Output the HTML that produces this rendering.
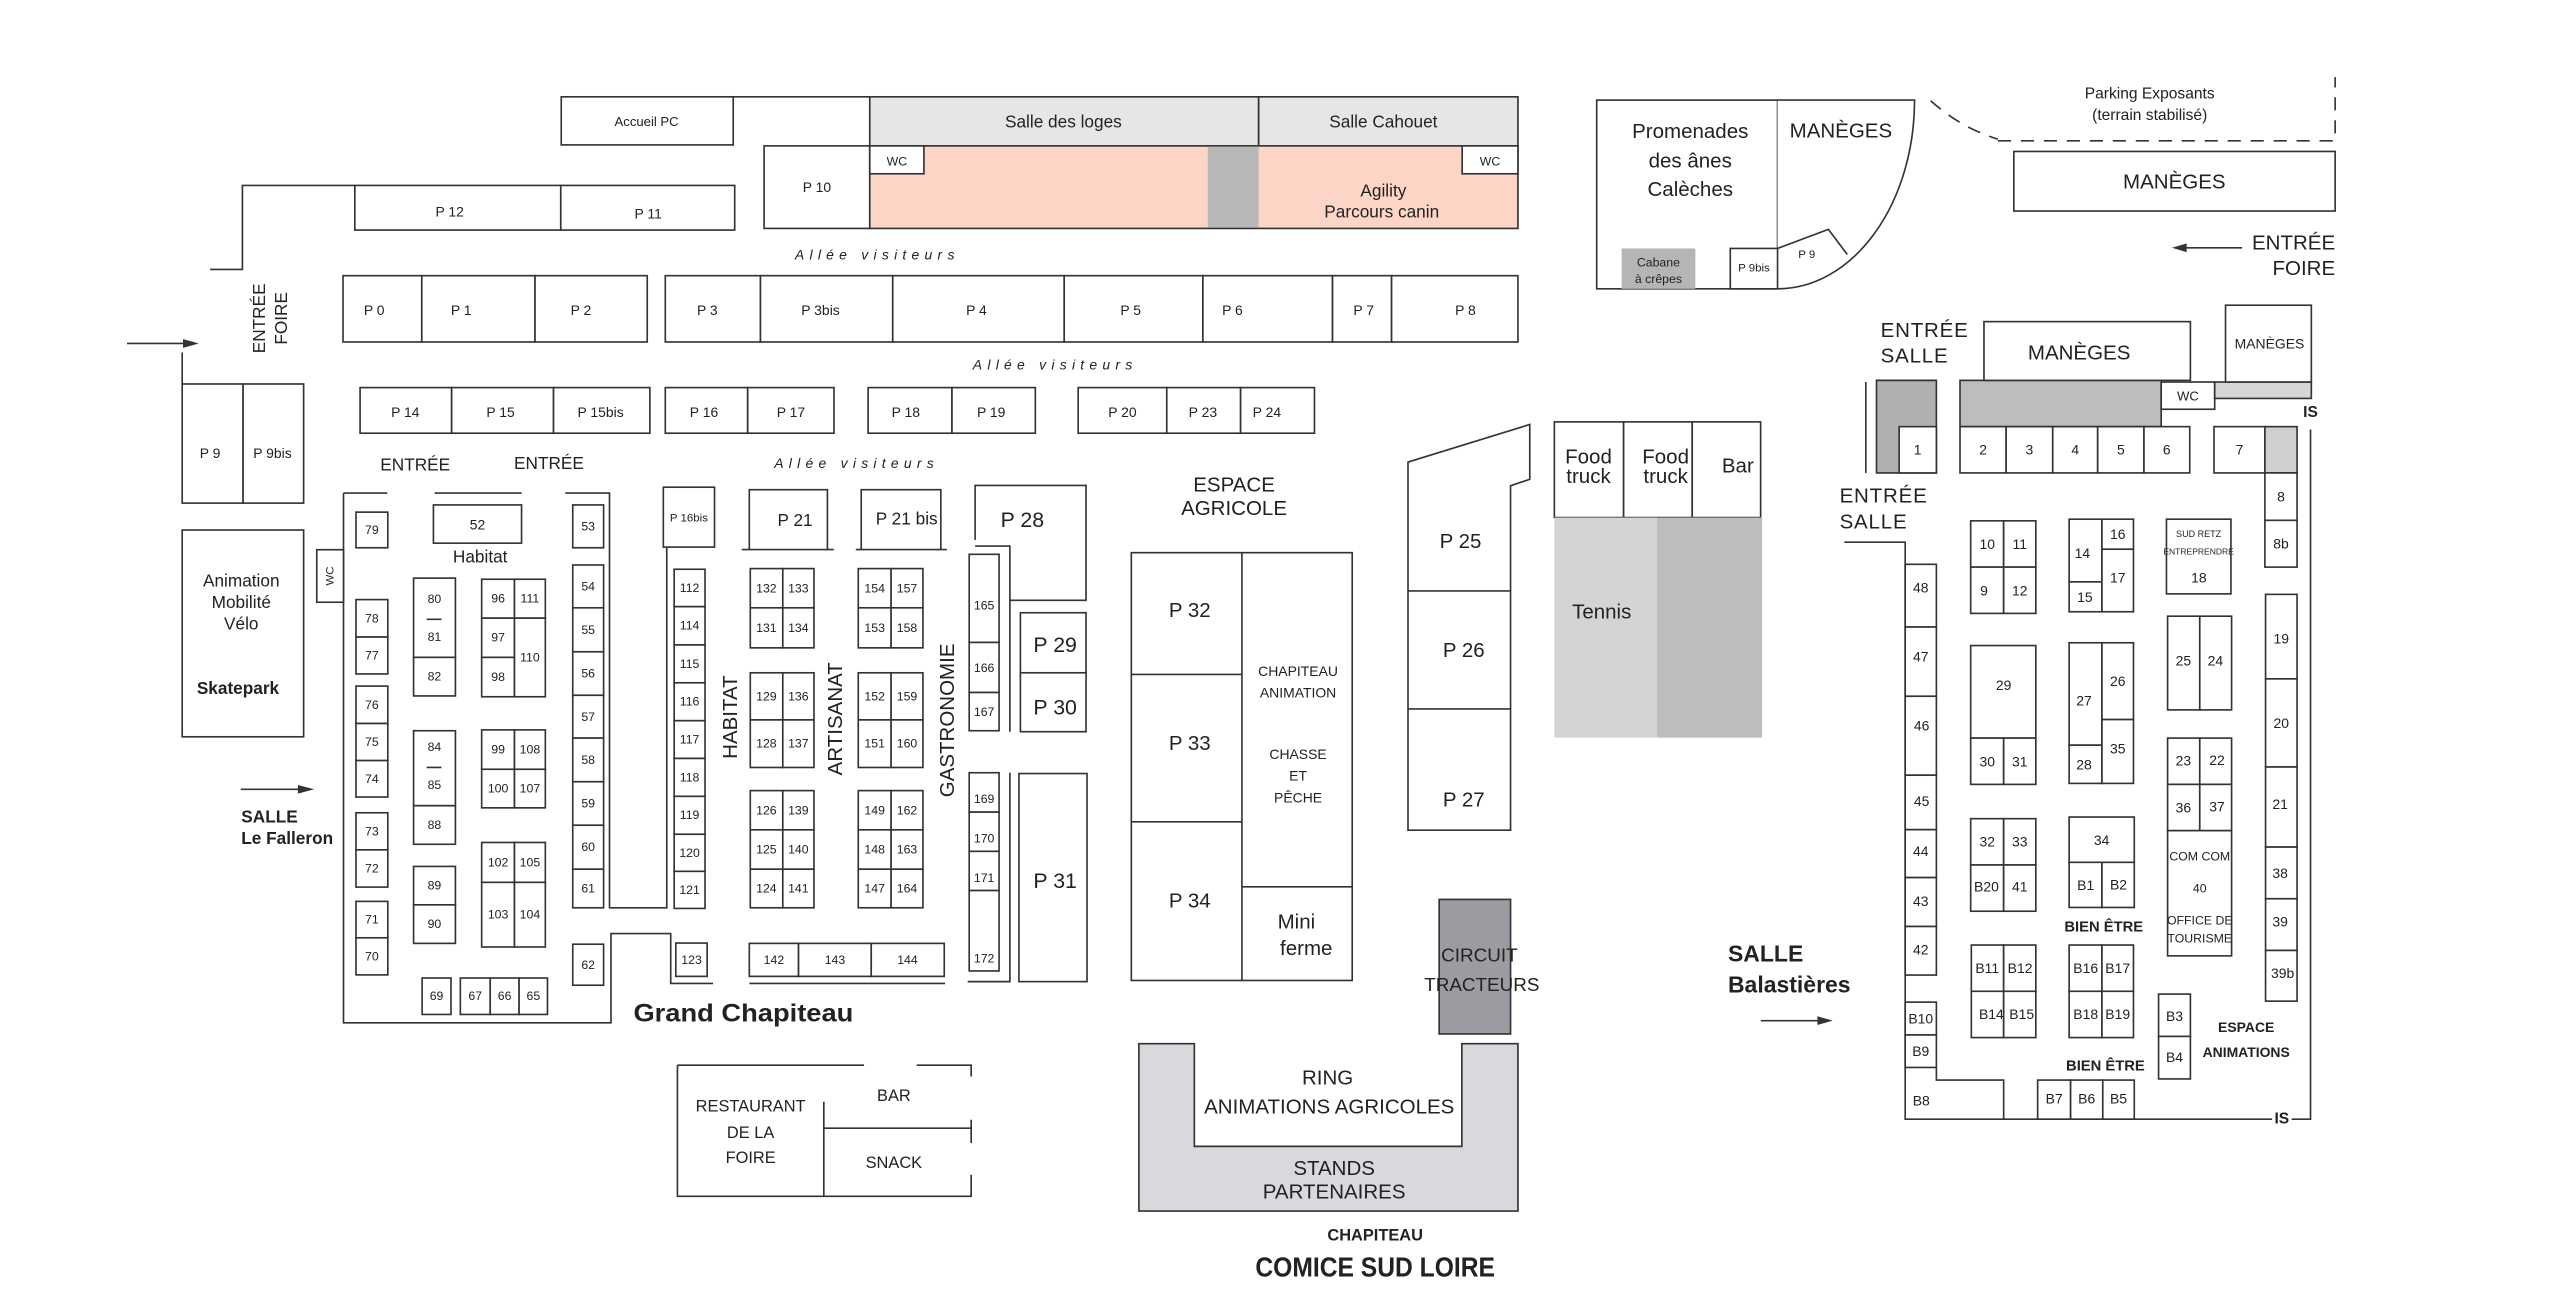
<!DOCTYPE html>
<html><head><meta charset="utf-8"><style>
html,body{margin:0;padding:0;background:#fff;}
svg{display:block;}
text{font-family:"Liberation Sans",sans-serif;fill:#222;text-anchor:middle;dominant-baseline:central;}
.b rect,.b polygon,.b path{stroke:#333;stroke-width:1;}
.n{font-family:"Liberation Sans Narrow","Liberation Sans",sans-serif;font-size:7.5px;}
.s{font-size:8.5px;}
.m{font-size:10.5px;}
.l{font-size:12.5px;}
.al{font-size:8.5px;font-style:italic;letter-spacing:3.2px;}
.bd{font-weight:bold;}
</style></head><body>
<svg width="2560" height="1298" viewBox="0 0 1560 791" xmlns="http://www.w3.org/2000/svg">
<g class="b" fill="#fff">
<!-- top -->
<rect x="342" y="59" width="104.8" height="29.3"/>
<path d="M446.8,59 H530" fill="none"/>
<rect x="530" y="59" width="237" height="30" fill="#e6e6e8"/>
<rect x="767" y="59" width="158" height="30" fill="#e6e6e8"/>
<rect x="465.6" y="88.9" width="64.4" height="50.3"/>
<rect x="530" y="88.9" width="395" height="50.3" fill="#fcd5c7"/>
<rect x="736" y="89.4" width="31" height="49.3" fill="#b8b8b8" stroke="none" style="stroke:none"/>
<rect x="530" y="88.9" width="33" height="17"/>
<rect x="891" y="88.9" width="34" height="17"/>
<path d="M128,164.2 H147.7 V113 H216.2" fill="none"/>
<rect x="216.2" y="113" width="125.5" height="27.2"/>
<rect x="341.7" y="113" width="106" height="27.2"/>
<rect x="209" y="168" width="48" height="40.4"/><rect x="257" y="168" width="69" height="40.4"/><rect x="326" y="168" width="68.4" height="40.4"/>
<rect x="405.4" y="168" width="58" height="40.4"/><rect x="463.4" y="168" width="80.6" height="40.4"/><rect x="544" y="168" width="104.5" height="40.4"/><rect x="648.5" y="168" width="84.5" height="40.4"/><rect x="733" y="168" width="79" height="40.4"/><rect x="812" y="168" width="36" height="40.4"/><rect x="848" y="168" width="77" height="40.4"/>
<rect x="219.4" y="236.2" width="55.8" height="27.8"/><rect x="275.2" y="236.2" width="62.1" height="27.8"/><rect x="337.3" y="236.2" width="58.7" height="27.8"/>
<rect x="405.4" y="236.2" width="50.2" height="27.8"/><rect x="455.6" y="236.2" width="52.6" height="27.8"/>
<rect x="529" y="236.2" width="51.1" height="27.8"/><rect x="580.1" y="236.2" width="50.8" height="27.8"/>
<rect x="657" y="236.2" width="54" height="27.8"/><rect x="711" y="236.2" width="45" height="27.8"/><rect x="756" y="236.2" width="45" height="27.8"/>
<!-- left -->
<path d="M77.4,209.3 H117" fill="none"/><polygon points="119.2,209.3 112,207.3 112,211.3" fill="#333"/>
<path d="M111,214.8 V234" fill="none"/>
<rect x="111" y="234" width="37.1" height="72.6"/><rect x="148.1" y="234" width="36.9" height="72.6"/>
<rect x="111" y="323" width="74" height="126"/>
<path d="M146.7,481 H187" fill="none"/><polygon points="189.5,481 182,479 182,483" fill="#333"/>
<!-- grand chapiteau outline -->
<path d="M209.3,300.5 H236 M264.8,300.5 H317.8 M344.5,300.5 H371.4 V553.2 H406.3 V333.8 M209.3,300.5 V623.3 H372.3 V568.9 H408.7 V599.3 H434.5" fill="none"/>
<rect x="193" y="335" width="16.3" height="32"/>
<rect x="216.9" y="312.1" width="19.4" height="21.7"/>
<rect x="264.1" y="307.7" width="53.7" height="23.3"/>
<rect x="349" y="307.7" width="18.8" height="26.1"/>
<rect x="349" y="344.3" width="18.8" height="26.1"/><rect x="349" y="370.4" width="18.8" height="26.8"/><rect x="349" y="397.2" width="18.8" height="26.5"/><rect x="349" y="423.7" width="18.8" height="26.1"/><rect x="349" y="449.8" width="18.8" height="26.6"/><rect x="349" y="476.4" width="18.8" height="26.5"/><rect x="349" y="502.9" width="18.8" height="26.8"/><rect x="349" y="529.7" width="18.8" height="23.5"/>
<rect x="349" y="575.4" width="18.8" height="25"/>
<rect x="216.9" y="365.4" width="19.4" height="22.8"/><rect x="216.9" y="388.2" width="19.4" height="22.5"/>
<rect x="216.9" y="418.1" width="19.4" height="22.8"/><rect x="216.9" y="440.9" width="19.4" height="22.6"/><rect x="216.9" y="463.5" width="19.4" height="22.2"/>
<rect x="216.9" y="495.3" width="19.4" height="22.6"/><rect x="216.9" y="517.9" width="19.4" height="22.7"/>
<rect x="216.9" y="549.3" width="19.4" height="22.2"/><rect x="216.9" y="571.5" width="19.4" height="22.6"/>
<rect x="252" y="352.3" width="25.5" height="48.3"/><rect x="252" y="400.6" width="25.5" height="23.5"/>
<rect x="252" y="445.3" width="25.5" height="45.7"/><rect x="252" y="491" width="25.5" height="23.5"/>
<rect x="252" y="528" width="25.5" height="23.4"/><rect x="252" y="551.4" width="25.5" height="23.5"/>
<rect x="293.5" y="353" width="20" height="23.7"/><rect x="313.5" y="353" width="18.8" height="23.7"/><rect x="293.5" y="376.7" width="20" height="23.9"/><rect x="293.5" y="400.6" width="20" height="24"/><rect x="313.5" y="376.7" width="18.8" height="47.9"/>
<rect x="293.5" y="444.8" width="20" height="24"/><rect x="313.5" y="444.8" width="18.8" height="24"/><rect x="293.5" y="468.8" width="20" height="23.5"/><rect x="313.5" y="468.8" width="18.8" height="23.5"/>
<rect x="293.5" y="513.4" width="20" height="24.3"/><rect x="313.5" y="513.4" width="18.8" height="24.3"/><rect x="293.5" y="537.7" width="20" height="39.4"/><rect x="313.5" y="537.7" width="18.8" height="39.4"/>
<rect x="257.2" y="596" width="17.6" height="22.2"/>
<rect x="280.5" y="596" width="18.2" height="22.2"/><rect x="298.7" y="596" width="17.6" height="22.2"/><rect x="316.3" y="596" width="17.3" height="22.2"/>
<rect x="404.2" y="296.9" width="31.2" height="36.5"/>
<rect x="410.8" y="346.9" width="18.8" height="22.8"/><rect x="410.8" y="369.7" width="18.8" height="23.3"/><rect x="410.8" y="393" width="18.8" height="23.1"/><rect x="410.8" y="416.1" width="18.8" height="23.1"/><rect x="410.8" y="439.2" width="18.8" height="23"/><rect x="410.8" y="462.2" width="18.8" height="23.1"/><rect x="410.8" y="485.3" width="18.8" height="23.1"/><rect x="410.8" y="508.4" width="18.8" height="22.6"/><rect x="410.8" y="531" width="18.8" height="22.6"/>
<path d="M456.6,334.5 V298.4 H504.2 V334.5 M452,334.9 H508.1 M524.8,334.5 V298.4 H573.3 V334.5 M521.5,334.9 H577" fill="none"/>
<path d="M594.2,329 V295.8 H661.8 V365.8 H615.4 V332.8 H594.2 M615.4,332.8 V445.9" fill="none"/>
<rect x="590.6" y="337.8" width="18.2" height="53.7"/><rect x="590.6" y="391.5" width="18.2" height="30.5"/><rect x="590.6" y="422" width="18.2" height="23.3"/>
<rect x="621.8" y="373.4" width="40" height="36.6"/><rect x="621.8" y="410" width="40" height="35.9"/>
<!-- artisanat blocks -->
<rect x="457.2" y="346.5" width="19.8" height="23.9"/><rect x="477" y="346.5" width="19" height="23.9"/><rect x="457.2" y="370.4" width="19.8" height="24.4"/><rect x="477" y="370.4" width="19" height="24.4"/>
<rect x="457.2" y="410" width="19.8" height="28.7"/><rect x="477" y="410" width="19" height="28.7"/><rect x="457.2" y="438.7" width="19.8" height="29"/><rect x="477" y="438.7" width="19" height="29"/>
<rect x="457.2" y="481.8" width="19.8" height="23.9"/><rect x="477" y="481.8" width="19" height="23.9"/><rect x="457.2" y="505.7" width="19.8" height="24"/><rect x="477" y="505.7" width="19" height="24"/><rect x="457.2" y="529.7" width="19.8" height="23.5"/><rect x="477" y="529.7" width="19" height="23.5"/>
<rect x="523" y="346.5" width="20" height="23.9"/><rect x="543" y="346.5" width="19.4" height="23.9"/><rect x="523" y="370.4" width="20" height="24.4"/><rect x="543" y="370.4" width="19.4" height="24.4"/>
<rect x="523" y="410" width="20" height="28.7"/><rect x="543" y="410" width="19.4" height="28.7"/><rect x="523" y="438.7" width="20" height="29"/><rect x="543" y="438.7" width="19.4" height="29"/>
<rect x="523" y="481.8" width="20" height="23.9"/><rect x="543" y="481.8" width="19.4" height="23.9"/><rect x="523" y="505.7" width="20" height="24"/><rect x="543" y="505.7" width="19.4" height="24"/><rect x="523" y="529.7" width="20" height="23.5"/><rect x="543" y="529.7" width="19.4" height="23.5"/>
<rect x="411.8" y="574.7" width="19.1" height="20.3"/>
<rect x="456.6" y="574.9" width="30" height="20.1"/><rect x="486.6" y="574.9" width="44.3" height="20.1"/><rect x="530.9" y="574.9" width="44.5" height="20.1"/>
<path d="M456.6,599.3 H575.9 M615.4,470.9 V598.2 H589.7" fill="none"/>
<rect x="590.6" y="470.9" width="18.2" height="24"/><rect x="590.6" y="494.9" width="18.2" height="23.9"/><rect x="590.6" y="518.8" width="18.2" height="23.9"/><rect x="590.6" y="542.7" width="18.2" height="49"/>
<rect x="620.9" y="471.4" width="41.5" height="126.8"/>
<!-- restaurant -->
<path d="M412.8,649.1 H526.5 M558.6,649.1 H591.8 V656 M591.8,682.4 V696.6 M591.8,715.9 V729 H412.8 V649.1 M502,671.4 V729 M502,687.5 H591.8" fill="none"/>
<!-- agricole -->
<rect x="689.4" y="336.8" width="134.6" height="260.7"/>
<path d="M756.8,336.8 V597.5 M689.4,411 H756.8 M689.4,500.8 H756.8 M756.8,540.4 H824" fill="none"/>
<polygon points="858,281.6 932.2,258.7 932.2,292.1 920.5,296 920.5,505.9 858,505.9"/>
<path d="M858,360.1 H920.5 M858,432 H920.5" fill="none"/>
<rect x="947.2" y="257.1" width="42.2" height="58.3"/><rect x="989.4" y="257.1" width="41.8" height="58.3"/><rect x="1031.2" y="257.1" width="41.7" height="58.3"/>
<rect x="947.2" y="315.4" width="62.6" height="134.1" fill="#d4d4d4" style="stroke:none"/>
<rect x="1009.8" y="315.4" width="64" height="134.1" fill="#bdbdbd" style="stroke:none"/>
<rect x="877" y="548.1" width="43.5" height="82" fill="#9b9ca1"/>
<path d="M694,636 H727.8 V698.6 H890.8 V636 H925 V738 H694 Z" fill="#d9d9dd"/>
<!-- top right -->
<rect x="973" y="61" width="110.2" height="115"/>
<path d="M1083.2,61 H1166.7 A83.5 115 0 0 1 1083.2 176" />
<rect x="988.2" y="151.4" width="44.9" height="24.6" fill="#b5b5b5" style="stroke:none"/>
<rect x="1054.4" y="151.4" width="28.8" height="24.6"/>
<path d="M1083.2,151.4 L1114.2,139.8 L1125.7,155.1" fill="none"/>
<path d="M1176.5,61.4 Q1195,78 1217.5,84.8 M1217.5,85.8 H1423 V47" fill="none" stroke-dasharray="8,6"/>
<rect x="1227.2" y="92.3" width="195.8" height="36.3"/>
<path d="M1366.3,151 H1330" fill="none"/><polygon points="1325.3,151 1332,149 1332,153" fill="#333"/>
<!-- salle balastieres -->
<path d="M1137,232.8 V288.2" fill="none"/>
<path d="M1143.5,231.8 H1180 V288.2 H1143.5 Z" fill="#b0b0b0"/>
<rect x="1157.3" y="260" width="22.7" height="28.2"/>
<rect x="1194.4" y="231.8" width="122.6" height="28.2" fill="#bdbdbd"/>
<rect x="1209" y="196" width="125.8" height="35.8"/>
<rect x="1317" y="232.8" width="32.6" height="16.6"/>
<rect x="1349.6" y="232.8" width="58.9" height="10" fill="#d6d6d6"/>
<rect x="1356.2" y="186" width="52.3" height="46.8"/>
<rect x="1194.4" y="260" width="28.1" height="28.2"/><rect x="1222.5" y="260" width="28.4" height="28.2"/><rect x="1250.9" y="260" width="27.4" height="28.2"/><rect x="1278.3" y="260" width="28.2" height="28.2"/><rect x="1306.5" y="260" width="27.9" height="28.2"/>
<rect x="1349.2" y="260" width="31" height="28.2"/><rect x="1380.2" y="260" width="19.6" height="28.2" fill="#d0d0d0"/>
<rect x="1380.2" y="288.2" width="19.6" height="28.9"/><rect x="1380.2" y="317.1" width="19.6" height="28.5"/>
<path d="M1123.9,330.4 H1161 V682 H1384.6 M1396.5,682 H1408 V261.7" fill="none"/>
<rect x="1161" y="343.9" width="19" height="38.2"/><rect x="1161" y="382.1" width="19" height="42.2"/><rect x="1161" y="424.3" width="19" height="48.1"/><rect x="1161" y="472.4" width="19" height="33.2"/><rect x="1161" y="505.6" width="19" height="29.2"/><rect x="1161" y="534.8" width="19" height="29.8"/><rect x="1161" y="564.6" width="19" height="29.6"/>
<rect x="1161" y="610.7" width="19" height="20"/><rect x="1161" y="630.7" width="19" height="19.8"/>
<path d="M1180,650.5 V658.2 H1221 V682" fill="none"/>
<rect x="1200.9" y="317.4" width="20.1" height="28.2"/><rect x="1221" y="317.4" width="19.6" height="28.2"/><rect x="1200.9" y="345.6" width="20.1" height="28.2"/><rect x="1221" y="345.6" width="19.6" height="28.2"/>
<rect x="1260.9" y="316.4" width="20" height="38.2"/><rect x="1260.9" y="354.6" width="20" height="18.2"/><rect x="1280.9" y="316.4" width="19.2" height="18.3"/><rect x="1280.9" y="334.7" width="19.2" height="38.1"/>
<rect x="1320.2" y="316.4" width="39.3" height="45.5"/>
<rect x="1200.9" y="393.4" width="39.7" height="56.4"/><rect x="1200.9" y="449.8" width="20.1" height="28.2"/><rect x="1221" y="449.8" width="19.6" height="28.2"/>
<rect x="1260.9" y="391.7" width="20" height="62.4"/><rect x="1260.9" y="454.1" width="20" height="23.3"/><rect x="1280.9" y="391.7" width="19.2" height="46.8"/><rect x="1280.9" y="438.5" width="19.2" height="38.9"/>
<rect x="1320.9" y="375.5" width="19.6" height="57.1"/><rect x="1340.5" y="375.5" width="19.4" height="57.1"/>
<rect x="1320.9" y="449.8" width="19.6" height="28.2"/><rect x="1340.5" y="449.8" width="19.4" height="28.2"/><rect x="1320.9" y="478" width="19.6" height="28.2"/><rect x="1340.5" y="478" width="19.4" height="28.2"/>
<rect x="1320.9" y="506.2" width="39" height="76.3"/>
<rect x="1200.9" y="498.9" width="20.1" height="28.2"/><rect x="1221" y="498.9" width="19.6" height="28.2"/><rect x="1200.9" y="527.1" width="20.1" height="28.2"/><rect x="1221" y="527.1" width="19.6" height="28.2"/>
<rect x="1260.9" y="497.9" width="39.7" height="27.6"/><rect x="1260.9" y="525.5" width="20" height="27.5"/><rect x="1280.9" y="525.5" width="19.7" height="27.5"/>
<rect x="1201.3" y="575.9" width="19.7" height="28.2"/><rect x="1221" y="575.9" width="19.6" height="28.2"/><rect x="1201.3" y="604.1" width="19.7" height="28.2"/><rect x="1221" y="604.1" width="19.6" height="28.2"/>
<rect x="1260.9" y="575.9" width="20" height="28.2"/><rect x="1280.9" y="575.9" width="19.2" height="28.2"/><rect x="1260.9" y="604.1" width="20" height="28.2"/><rect x="1280.9" y="604.1" width="19.2" height="28.2"/>
<rect x="1315.4" y="605.8" width="19.4" height="25.8"/><rect x="1315.4" y="631.6" width="19.4" height="25.9"/>
<rect x="1380.6" y="362.2" width="19.2" height="51.5"/><rect x="1380.6" y="413.7" width="19.2" height="53.7"/><rect x="1380.6" y="467.4" width="19.2" height="48.8"/><rect x="1380.6" y="516.2" width="19.2" height="31.5"/><rect x="1380.6" y="547.7" width="19.2" height="31.5"/><rect x="1380.6" y="579.2" width="19.2" height="30.9"/>
<rect x="1241.7" y="658.2" width="20.1" height="23.8"/><rect x="1261.8" y="658.2" width="19.6" height="23.8"/><rect x="1281.4" y="658.2" width="19.2" height="23.8"/>
<path d="M1073,622 H1111" fill="none"/><polygon points="1115,622 1108,620 1108,624" fill="#333"/>
<path d="M260,377.4 H269 M260,467.7 H269" fill="none"/>
</g>
<g>
<text x="394" y="74" style="font-size:8px">Accueil PC</text>
<text x="648" y="74" class="m">Salle des loges</text>
<text x="843" y="74" class="m">Salle Cahouet</text>
<text x="497.8" y="114" class="s">P 10</text>
<text x="546.5" y="98.5" style="font-size:7.5px">WC</text>
<text x="908" y="98.5" style="font-size:7.5px">WC</text>
<text x="843" y="116" class="m">Agility</text>
<text x="842" y="129" class="m">Parcours canin</text>
<text x="274" y="129" class="s">P 12</text>
<text x="395" y="130" class="s">P 11</text>
<text x="534.6" y="155" class="al">Allée visiteurs</text>
<text x="643" y="222" class="al">Allée visiteurs</text>
<text x="522" y="282" class="al">Allée visiteurs</text>
<text x="228" y="189" class="s">P 0</text><text x="281" y="189" class="s">P 1</text><text x="354" y="189" class="s">P 2</text>
<text x="431" y="189" class="s">P 3</text><text x="500" y="189" class="s">P 3bis</text><text x="595" y="189" class="s">P 4</text><text x="689" y="189" class="s">P 5</text><text x="751" y="189" class="s">P 6</text><text x="831" y="189" class="s">P 7</text><text x="893" y="189" class="s">P 8</text>
<text x="247" y="251" class="s">P 14</text><text x="305" y="251" class="s">P 15</text><text x="366" y="251" class="s">P 15bis</text>
<text x="429" y="251" class="s">P 16</text><text x="482" y="251" class="s">P 17</text><text x="552" y="251" class="s">P 18</text><text x="604" y="251" class="s">P 19</text>
<text x="684" y="251" class="s">P 20</text><text x="733" y="251" class="s">P 23</text><text x="772" y="251" class="s">P 24</text>
<text x="253" y="283" class="m">ENTRÉE</text><text x="334.5" y="282" class="m">ENTRÉE</text>
<text transform="translate(157.9,194) rotate(-90)" class="m">ENTRÉE</text>
<text transform="translate(171.1,194) rotate(-90)" class="m">FOIRE</text>
<text x="128" y="276" class="s">P 9</text><text x="166" y="276" class="s">P 9bis</text>
<text x="147" y="353.7" class="m">Animation</text><text x="147" y="366.8" class="m">Mobilité</text><text x="147" y="380" class="m">Vélo</text>
<text x="145" y="419.4" class="m bd">Skatepark</text>
<text x="147" y="497.5" class="m bd" style="text-anchor:start">SALLE</text>
<text x="147" y="510.6" class="m bd" style="text-anchor:start">Le Falleron</text>
<text transform="translate(201.5,351) rotate(-90)" style="font-size:7px">WC</text>
<text x="226.6" y="323" class="n">79</text>
<text x="291" y="319.5" class="n" style="font-size:8.5px">52</text>
<text x="292.6" y="339" class="m">Habitat</text>
<text x="358.4" y="321" class="n">53</text>
<text x="358.4" y="357.3" class="n">54</text><text x="358.4" y="383.8" class="n">55</text><text x="358.4" y="410.4" class="n">56</text><text x="358.4" y="436.8" class="n">57</text><text x="358.4" y="463.1" class="n">58</text><text x="358.4" y="489.6" class="n">59</text><text x="358.4" y="516.3" class="n">60</text><text x="358.4" y="541.4" class="n">61</text>
<text x="358.4" y="588" class="n">62</text>
<text x="226.6" y="376.8" class="n">78</text><text x="226.6" y="399.4" class="n">77</text>
<text x="226.6" y="429.5" class="n">76</text><text x="226.6" y="452.2" class="n">75</text><text x="226.6" y="474.6" class="n">74</text>
<text x="226.6" y="506.6" class="n">73</text><text x="226.6" y="529.2" class="n">72</text>
<text x="226.6" y="560.4" class="n">71</text><text x="226.6" y="582.8" class="n">70</text>
<text x="264.7" y="365" class="n">80</text><text x="264.7" y="388.2" class="n">81</text><text x="264.7" y="412.3" class="n">82</text>
<text x="264.7" y="455.3" class="n">84</text><text x="264.7" y="478.5" class="n">85</text><text x="264.7" y="502.8" class="n">88</text>
<text x="264.7" y="539.7" class="n">89</text><text x="264.7" y="563.1" class="n">90</text>
<text x="303.5" y="364.8" class="n">96</text><text x="322.9" y="364.8" class="n">111</text><text x="303.5" y="388.6" class="n">97</text><text x="303.5" y="412.6" class="n">98</text><text x="322.9" y="400.6" class="n">110</text>
<text x="303.5" y="456.8" class="n">99</text><text x="322.9" y="456.8" class="n">108</text><text x="303.5" y="480.5" class="n">100</text><text x="322.9" y="480.5" class="n">107</text>
<text x="303.5" y="525.5" class="n">102</text><text x="322.9" y="525.5" class="n">105</text><text x="303.5" y="557.4" class="n">103</text><text x="322.9" y="557.4" class="n">104</text>
<text x="266" y="607" class="n">69</text><text x="289.6" y="607" class="n">67</text><text x="307.5" y="607" class="n">66</text><text x="325" y="607" class="n">65</text>
<text x="419.8" y="316" class="n" style="font-size:7px">P 16bis</text>
<text x="420.2" y="358.3" class="n">112</text><text x="420.2" y="381.3" class="n">114</text><text x="420.2" y="404.5" class="n">115</text><text x="420.2" y="427.6" class="n">116</text><text x="420.2" y="450.7" class="n">117</text><text x="420.2" y="473.8" class="n">118</text><text x="420.2" y="496.8" class="n">119</text><text x="420.2" y="519.7" class="n">120</text><text x="420.2" y="542.3" class="n">121</text>
<text transform="translate(445.1,437) rotate(-90)" class="l">HABITAT</text>
<text transform="translate(509,438) rotate(-90)" class="l">ARTISANAT</text>
<text transform="translate(577.5,439) rotate(-90)" class="l">GASTRONOMIE</text>
<text x="484.5" y="317" class="m">P 21</text><text x="552.5" y="316" class="m">P 21 bis</text>
<text x="623" y="317" style="font-size:13px">P 28</text>
<text x="643" y="393" style="font-size:13px">P 29</text><text x="643" y="431" style="font-size:13px">P 30</text>
<text x="643" y="537" style="font-size:13px">P 31</text>
<text x="599.7" y="369" class="n">165</text><text x="599.7" y="407" class="n">166</text><text x="599.7" y="434" class="n">167</text>
<text x="599.7" y="487" class="n">169</text><text x="599.7" y="511" class="n">170</text><text x="599.7" y="535" class="n">171</text><text x="599.7" y="584" class="n">172</text>
<text x="467" y="358.5" class="n">132</text><text x="486.5" y="358.5" class="n">133</text><text x="467" y="382.6" class="n">131</text><text x="486.5" y="382.6" class="n">134</text>
<text x="467" y="424.4" class="n">129</text><text x="486.5" y="424.4" class="n">136</text><text x="467" y="453.2" class="n">128</text><text x="486.5" y="453.2" class="n">137</text>
<text x="467" y="493.8" class="n">126</text><text x="486.5" y="493.8" class="n">139</text><text x="467" y="517.7" class="n">125</text><text x="486.5" y="517.7" class="n">140</text><text x="467" y="541.5" class="n">124</text><text x="486.5" y="541.5" class="n">141</text>
<text x="533" y="358.5" class="n">154</text><text x="552.7" y="358.5" class="n">157</text><text x="533" y="382.6" class="n">153</text><text x="552.7" y="382.6" class="n">158</text>
<text x="533" y="424.4" class="n">152</text><text x="552.7" y="424.4" class="n">159</text><text x="533" y="453.2" class="n">151</text><text x="552.7" y="453.2" class="n">160</text>
<text x="533" y="493.8" class="n">149</text><text x="552.7" y="493.8" class="n">162</text><text x="533" y="517.7" class="n">148</text><text x="552.7" y="517.7" class="n">163</text><text x="533" y="541.5" class="n">147</text><text x="552.7" y="541.5" class="n">164</text>
<text x="421.4" y="585" class="n">123</text>
<text x="471.6" y="585" class="n">142</text><text x="508.8" y="585" class="n">143</text><text x="553" y="585" class="n">144</text>
<text x="453" y="618" style="font-size:15px;font-weight:bold;font-family:'Liberation Sans Narrow','Liberation Sans',sans-serif" textLength="134" lengthAdjust="spacingAndGlyphs">Grand Chapiteau</text>
<text x="457.4" y="674.4" class="m" style="font-size:10px">RESTAURANT</text><text x="457.4" y="690.6" class="m" style="font-size:10px">DE LA</text><text x="457.4" y="705.7" class="m" style="font-size:10px">FOIRE</text>
<text x="544.7" y="668" class="m" style="font-size:10px">BAR</text><text x="544.7" y="708.7" class="m" style="font-size:10px">SNACK</text>
<text x="752" y="295.5" class="l">ESPACE</text><text x="752" y="310" class="l">AGRICOLE</text>
<text x="725" y="372" class="l">P 32</text><text x="725" y="453" class="l">P 33</text><text x="725" y="549" class="l">P 34</text>
<text x="791" y="409" class="s">CHAPITEAU</text><text x="791" y="422" class="s">ANIMATION</text>
<text x="791" y="459.5" class="s">CHASSE</text><text x="791" y="472.5" class="s">ET</text><text x="791" y="486" class="s">PÊCHE</text>
<text x="790" y="562" class="l">Mini</text><text x="796" y="578" class="l">ferme</text>
<text x="890" y="330" class="l">P 25</text><text x="892" y="396.5" class="l">P 26</text><text x="892" y="487.5" class="l">P 27</text>
<text x="968" y="278.5" class="l">Food</text><text x="968" y="290.5" class="l">truck</text>
<text x="1015" y="278.5" class="l">Food</text><text x="1015" y="290.5" class="l">truck</text>
<text x="1059" y="284" class="l">Bar</text>
<text x="958" y="373" class="l" style="text-anchor:start">Tennis</text>
<text x="901.5" y="582" class="l" style="font-size:11.5px">CIRCUIT</text><text x="903" y="600" class="l" style="font-size:11.5px">TRACTEURS</text>
<text x="809" y="657" class="l">RING</text><text x="810" y="674.5" class="l">ANIMATIONS AGRICOLES</text>
<text x="813" y="712" class="l">STANDS</text><text x="813" y="726.5" class="l">PARTENAIRES</text>
<text x="838" y="753" style="font-size:10px;font-weight:bold;font-family:'Liberation Sans Narrow','Liberation Sans',sans-serif">CHAPITEAU</text>
<text x="838" y="772" style="font-size:17px;font-weight:bold;font-family:'Liberation Sans Narrow','Liberation Sans',sans-serif" textLength="146" lengthAdjust="spacingAndGlyphs">COMICE SUD LOIRE</text>
<text x="1030" y="80" class="l">Promenades</text><text x="1030" y="98" class="l">des ânes</text><text x="1030" y="115.5" class="l">Calèches</text>
<text x="1121.8" y="79.7" class="l">MANÈGES</text>
<text x="1010.6" y="159.9" style="font-size:7.5px">Cabane</text><text x="1010.6" y="170.1" style="font-size:7.5px">à crêpes</text>
<text x="1068.8" y="163.5" style="font-size:7px">P 9bis</text>
<text x="1101" y="155.5" style="font-size:7px">P 9</text>
<text x="1310" y="57.3" style="font-size:9.5px">Parking Exposants</text><text x="1310" y="70.5" style="font-size:9.5px">(terrain stabilisé)</text>
<text x="1325" y="111" class="l">MANÈGES</text>
<text x="1423" y="148" class="l" style="text-anchor:end">ENTRÉE</text><text x="1423" y="163.6" class="l" style="text-anchor:end">FOIRE</text>
<text x="1146" y="201.3" class="l" style="text-anchor:start;letter-spacing:0.5px">ENTRÉE</text><text x="1146" y="216.9" class="l" style="text-anchor:start;letter-spacing:0.5px">SALLE</text>
<text x="1121" y="302.2" class="l" style="text-anchor:start;letter-spacing:0.5px">ENTRÉE</text><text x="1121" y="318.1" class="l" style="text-anchor:start;letter-spacing:0.5px">SALLE</text>
<text x="1267" y="215" class="l">MANÈGES</text>
<text x="1383" y="209.3" style="font-size:8.5px">MANÈGES</text>
<text x="1333.3" y="241.3" style="font-size:8px">WC</text>
<text x="1408" y="251.5" style="font-size:9.5px;font-weight:bold">IS</text>
<text x="1390.5" y="682" style="font-size:9.5px;font-weight:bold">IS</text>
<text x="1053" y="581" style="font-size:14px;font-weight:bold;text-anchor:start;font-family:'Liberation Sans Narrow','Liberation Sans',sans-serif">SALLE</text>
<text x="1053" y="600" style="font-size:14px;font-weight:bold;text-anchor:start;font-family:'Liberation Sans Narrow','Liberation Sans',sans-serif">Balastières</text>
<text x="1168.6" y="274" class="s">1</text><text x="1208.5" y="274" class="s">2</text><text x="1236.7" y="274" class="s">3</text><text x="1264.6" y="274" class="s">4</text><text x="1292.4" y="274" class="s">5</text><text x="1320.4" y="274" class="s">6</text><text x="1364.7" y="274" class="s">7</text>
<text x="1390" y="302.6" class="s">8</text><text x="1390" y="331.3" class="s">8b</text>
<text x="1170.5" y="358" class="s">48</text><text x="1170.5" y="400" class="s">47</text><text x="1171" y="442" class="s">46</text><text x="1171" y="488" class="s">45</text><text x="1170.5" y="518.5" class="s">44</text><text x="1170.5" y="549" class="s">43</text><text x="1170.5" y="578.5" class="s">42</text>
<text x="1170.5" y="620.7" class="s">B10</text><text x="1170.5" y="640.6" class="s">B9</text><text x="1170.8" y="670.5" class="s">B8</text>
<text x="1211" y="331.5" class="s">10</text><text x="1230.8" y="331.5" class="s">11</text><text x="1209" y="359.7" class="s">9</text><text x="1230.8" y="359.7" class="s">12</text>
<text x="1269" y="337" class="s">14</text><text x="1270.5" y="363.7" class="s">15</text><text x="1290.5" y="325.5" class="s">16</text><text x="1290.5" y="352" class="s">17</text>
<text x="1339.8" y="325.4" style="font-size:5.5px">SUD RETZ</text><text x="1339.8" y="336" style="font-size:5.2px">ENTREPRENDRE</text><text x="1340" y="351.9" class="s">18</text>
<text x="1221" y="417.5" class="s">29</text><text x="1211" y="464" class="s">30</text><text x="1230.8" y="464" class="s">31</text>
<text x="1270" y="427" class="s">27</text><text x="1270" y="466" class="s">28</text><text x="1290.5" y="415" class="s">26</text><text x="1290.5" y="456" class="s">35</text>
<text x="1330.5" y="402.5" class="s">25</text><text x="1350" y="402.5" class="s">24</text>
<text x="1330.5" y="463.5" class="s">23</text><text x="1351" y="463" class="s">22</text><text x="1330.5" y="492" class="s">36</text><text x="1351" y="491.5" class="s">37</text>
<text x="1340.5" y="522" style="font-size:7.5px">COM COM</text><text x="1340.5" y="541.4" style="font-size:7.5px">40</text><text x="1340.5" y="561" style="font-size:7.5px">OFFICE DE</text><text x="1340.5" y="572" style="font-size:7.5px">TOURISME</text>
<text x="1211" y="512.7" class="s">32</text><text x="1230.8" y="512.7" class="s">33</text><text x="1210.5" y="540.3" class="s">B20</text><text x="1230.8" y="540.3" class="s">41</text>
<text x="1280.7" y="512" class="s">34</text><text x="1271" y="539.3" class="s">B1</text><text x="1291" y="539" class="s">B2</text>
<text x="1282" y="565.3" style="font-size:9px;font-weight:bold">BIEN ÊTRE</text>
<text x="1283" y="650" style="font-size:9px;font-weight:bold">BIEN ÊTRE</text>
<text x="1211" y="590" class="s">B11</text><text x="1231" y="590" class="s">B12</text><text x="1213.5" y="618" class="s">B14</text><text x="1232" y="618" class="s">B15</text>
<text x="1271" y="590" class="s">B16</text><text x="1290.5" y="590" class="s">B17</text><text x="1271" y="618" class="s">B18</text><text x="1290.5" y="618" class="s">B19</text>
<text x="1325.1" y="619" class="s">B3</text><text x="1325.1" y="644" class="s">B4</text>
<text x="1368.8" y="626" style="font-size:8.5px;font-weight:bold;font-family:'Liberation Sans Narrow','Liberation Sans',sans-serif">ESPACE</text>
<text x="1368.8" y="641" style="font-size:8.5px;font-weight:bold;font-family:'Liberation Sans Narrow','Liberation Sans',sans-serif">ANIMATIONS</text>
<text x="1390.2" y="389" class="s">19</text><text x="1390.2" y="440.5" class="s">20</text><text x="1389.5" y="490" class="s">21</text><text x="1389.5" y="532" class="s">38</text><text x="1389.5" y="561.5" class="s">39</text><text x="1391" y="593" class="s">39b</text>
<text x="1251.8" y="669.5" class="s">B7</text><text x="1271.6" y="669.5" class="s">B6</text><text x="1291" y="669.5" class="s">B5</text>
</g>
</svg>
</body></html>
